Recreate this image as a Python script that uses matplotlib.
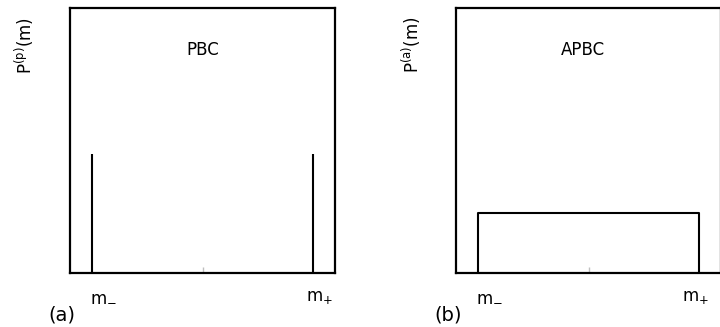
import matplotlib
matplotlib.use("Agg")
import matplotlib.pyplot as plt

# data: positions in units of m (m_- = -1, m_+ = +1)
m_pos = [-1.0, 1.0]
pbc_heights = [0.45, 0.45]
apbc_x = [-1.0, -1.0, 1.0, 1.0]
apbc_y = [0.0, 0.225, 0.225, 0.0]
tick_labels = [r'm$_{-}$', r'm$_{+}$']

plt.rcParams['font.family'] = ['DejaVu Sans']
plt.rcParams['mathtext.fontset'] = 'dejavusans'

fig = plt.figure(figsize=(7.2, 3.27), dpi=100)
ax1 = fig.add_axes([70/720, 54/327, 265/720, 265/327])
ax2 = fig.add_axes([456/720, 54/327, 265/720, 265/327])


def setup(ax, plus_shift):
    ax.set_xlim(-1.2, 1.2)
    ax.set_ylim(0, 1)
    ax.set_xticks([0])
    ax.set_xticklabels([''])
    ax.set_yticks([])
    ax.tick_params(axis='x', direction='in', length=4, width=1, color='0.75')
    for s in ax.spines.values():
        s.set_linewidth(1.6)
    tr = ax.get_xaxis_transform()
    ax.text(m_pos[0] - 0.02, -0.105, tick_labels[0], transform=tr,
            ha='left', va='baseline', fontsize=12)
    ax.text(m_pos[1] + plus_shift, -0.105, tick_labels[1], transform=tr,
            ha='center', va='baseline', fontsize=12)


setup(ax1, 0.06)
ax1.vlines(m_pos, 0, pbc_heights, color='black', lw=1.5)
ax1.text(0.5, 0.84, 'PBC', transform=ax1.transAxes, ha='center', va='center', fontsize=12)

setup(ax2, -0.03)
ax2.plot(apbc_x, apbc_y, color='black', lw=1.5)
ax2.text(0.48, 0.84, 'APBC', transform=ax2.transAxes, ha='center', va='center', fontsize=12)

fig.text(24/720, 1 - 46/327, r'P$^{(\mathrm{p})}$(m)', rotation=90, ha='center', va='center', fontsize=12)
fig.text(411/720, 1 - 45/327, r'P$^{(\mathrm{a})}$(m)', rotation=90, ha='center', va='center', fontsize=12)
fig.text(62/720, 1 - 315/327, '(a)', ha='center', va='center', fontsize=14)
fig.text(448/720, 1 - 315/327, '(b)', ha='center', va='center', fontsize=14)

fig.savefig('out.png', dpi=100)
